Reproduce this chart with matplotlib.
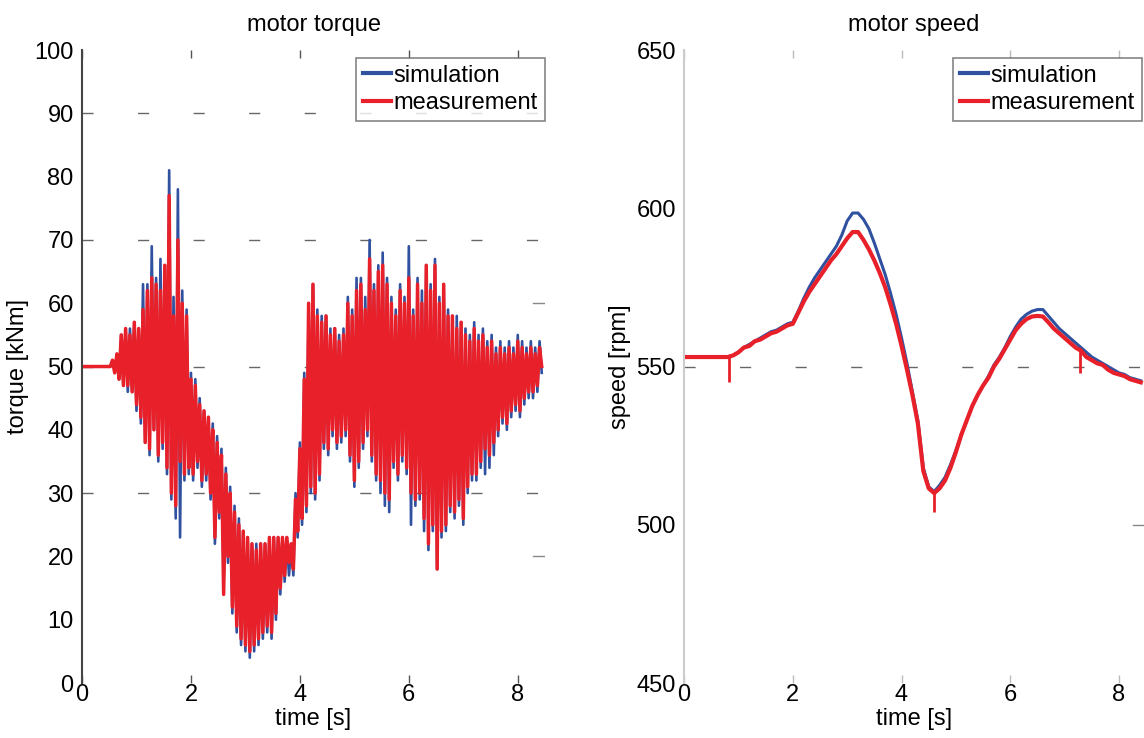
import matplotlib
matplotlib.use('Agg')
import matplotlib.pyplot as plt
import numpy as np

plt.rcParams['font.family'] = ['Liberation Sans', 'DejaVu Sans']
plt.rcParams['font.size'] = 17

# ---------------- data ----------------
# torque, sampled every 0.04 s from t = 0
torque_dt = 0.04
torque_meas = [
    50, 50, 50, 50, 50, 50, 50, 50, 50, 50,
    50, 50, 50, 50, 51, 49, 52, 48, 55, 47,
    56, 47, 55, 46, 57, 44, 56, 42, 59, 38,
    62, 37, 64, 40, 63, 36, 62, 38, 66, 34,
    77, 30, 58, 28, 70, 35, 60, 33, 58, 34,
    48, 33, 47, 35, 44, 32, 43, 33, 42, 30,
    40, 23, 38, 27, 36, 14, 33, 20, 30, 12,
    27, 9, 25, 7, 24, 6, 23, 5, 22, 6,
    21, 7, 22, 8, 22, 9, 23, 8, 23, 11,
    23, 15, 23, 17, 23, 19, 22, 18, 29, 24,
    37, 26, 48, 28, 60, 31, 63, 30, 58, 33,
    57, 38, 58, 37, 55, 40, 56, 38, 54, 39,
    55, 40, 60, 36, 58, 32, 62, 35, 63, 38,
    59, 40, 67, 36, 62, 33, 65, 32, 66, 30,
    63, 29, 60, 35, 58, 33, 62, 36, 60, 34,
    64, 30, 58, 29, 63, 30, 60, 26, 66, 22,
    62, 25, 66, 18, 60, 24, 63, 25, 58, 28,
    58, 27, 56, 29, 57, 26, 55, 31, 54, 33,
    56, 33, 54, 35, 55, 37, 53, 36, 54, 38,
    52, 40, 53, 42, 52, 41, 53, 43, 52, 44,
    54, 43, 53, 45, 52, 46, 53, 46, 52, 47,
    53, 50,
]
torque_sim = [
    50, 50, 50, 50, 50, 50, 50, 50, 50, 50,
    50, 50, 50, 50, 51, 49, 52, 48, 55, 47,
    56, 46, 56, 46, 57, 43, 56, 41, 63, 38,
    63, 36, 69, 40, 64, 35, 67, 37, 66, 33,
    81, 29, 61, 26, 78, 23, 62, 32, 59, 33,
    49, 32, 48, 34, 45, 31, 43, 32, 42, 29,
    41, 22, 39, 26, 37, 16, 34, 19, 31, 11,
    28, 8, 26, 6, 24, 5, 23, 4, 22, 5,
    22, 6, 22, 7, 22, 8, 23, 7, 23, 10,
    23, 14, 23, 16, 23, 17, 22, 17, 30, 23,
    38, 25, 49, 27, 60, 30, 63, 29, 59, 32,
    58, 37, 58, 36, 56, 39, 56, 37, 55, 38,
    56, 39, 61, 35, 59, 31, 64, 34, 64, 37,
    61, 39, 70, 35, 63, 32, 66, 30, 68, 28,
    64, 27, 61, 34, 59, 32, 63, 35, 61, 33,
    69, 25, 59, 28, 64, 29, 62, 24, 66, 21,
    63, 24, 67, 18, 61, 23, 63, 24, 59, 27,
    58, 26, 58, 28, 57, 25, 56, 30, 55, 32,
    57, 32, 55, 34, 56, 33, 54, 34, 55, 36,
    53, 39, 54, 41, 53, 40, 54, 42, 53, 43,
    55, 42, 54, 44, 53, 45, 54, 45, 53, 46,
    54, 49,
]

# speed, sampled every 0.1 s from t = 0 to 8.4
speed_dt = 0.1
speed_meas = [
    553, 553, 553, 553, 553, 553, 553, 553, 553, 553.5,
    554.5, 556, 556.5, 558, 558.5, 559.5, 560.5, 561, 562, 563,
    563.5, 567, 570.5, 573.5, 576, 578.5, 581, 583.5, 585.5, 588,
    590.5, 592.5, 592.5, 590, 587, 583.5, 579.5, 575, 569.5, 563.5,
    556.5, 549, 541, 532, 517, 511.5, 510, 511.5, 514, 518,
    523, 528.5, 533, 537.5, 541, 544, 546.5, 550, 552.5, 555.5,
    558.5, 561.5, 563.5, 565, 565.8, 566, 565.8, 564, 562, 560.5,
    559, 557.5, 556, 555, 553, 552, 551, 550.5, 549, 548,
    547.5, 547, 546, 545.5, 545,
]
speed_sim = [
    553, 553, 553, 553, 553, 553, 553, 553, 553, 553.5,
    554.5, 556, 557, 558, 559, 560, 561, 561.5, 562.5, 563.5,
    564, 567.5, 571.5, 575, 578, 580.5, 583, 585.5, 588, 591.5,
    596, 598.5, 598.5, 596.5, 593.5, 589, 584, 579, 573, 566.5,
    559, 551, 542, 533, 518, 512, 510.5, 512.5, 515, 519,
    523.5, 528.5, 533, 537.5, 541, 544, 547, 550.5, 553, 556,
    559.5, 562.5, 565, 566.5, 567.5, 568, 568, 566, 564, 562,
    560.5, 559, 557.5, 556, 554.5, 553, 552, 551, 550, 549,
    548, 547.5, 546.5, 546, 545.5,
]
# short downward spikes in the measured speed
spike_t = [0.83, 4.60, 7.28]
spike_top = [553, 510, 556]
spike_bottom = [545, 504, 548]

blue = '#3050A0'
red = '#E8202A'

t_torque = np.arange(len(torque_meas)) * torque_dt
t_speed = np.arange(len(speed_meas)) * speed_dt

fig = plt.figure(figsize=(11.44, 7.38), dpi=100)
ax1 = fig.add_axes([0.0717, 0.0745, 0.4047, 0.8577])
ax2 = fig.add_axes([0.598, 0.0745, 0.402, 0.8577])


def style(ax, spine_color):
    for s in ['top', 'right', 'bottom']:
        ax.spines[s].set_visible(False)
    ax.spines['left'].set_color(spine_color)
    ax.spines['left'].set_linewidth(1.5)
    ax.tick_params(axis='x', direction='in', length=6, width=1, color='#555555',
                   top=True, pad=1)
    ax.tick_params(axis='y', length=0, pad=6)


def add_legend(ax, x_anchor):
    leg = ax.legend(loc='upper right', bbox_to_anchor=(x_anchor, 0.988), borderaxespad=0,
                    handlelength=1.2, handletextpad=0.1, labelspacing=0.22,
                    borderpad=0.3, fancybox=False, fontsize=17)
    leg.get_frame().set_edgecolor('#666666')
    leg.get_frame().set_linewidth(1.2)
    for line in leg.get_lines():
        line.set_linewidth(3)
    return leg


# ---- motor torque ----
ax1.plot(t_torque, torque_sim, color=blue, lw=1.9, label='simulation')
ax1.plot(t_torque, torque_meas, color=red, lw=2.5, label='measurement')
for y in [30, 50, 70, 90]:
    ax1.axhline(y, color='#666666', lw=1, dashes=(8, 32), zorder=0)
for y in [20, 60]:
    ax1.axhline(y, xmin=0.975, xmax=1.0, color='#888888', lw=1)
ax1.set_xlim(0, 8.5)
ax1.set_ylim(0, 100)
ax1.set_xticks([0, 2, 4, 6, 8])
ax1.set_yticks(np.arange(0, 101, 10))
style(ax1, '#444444')
ax1.set_title('motor torque', fontsize=17, pad=14)
ax1.set_xlabel('time [s]', fontsize=17, labelpad=1)
ax1.set_ylabel('torque [kNm]', fontsize=17, labelpad=4)
add_legend(ax1, 1.0)

# ---- motor speed ----
ax2.plot(t_speed, speed_sim, color=blue, lw=2.2, label='simulation')
ax2.plot(t_speed, speed_meas, color=red, lw=3.0, label='measurement')
ax2.vlines(spike_t, spike_bottom, spike_top, color=red, lw=2)
ax2.axhline(550, color='#666666', lw=1, dashes=(8, 32), zorder=0)
ax2.axhline(500, xmin=0.975, xmax=1.0, color='#888888', lw=1)
ax2.set_xlim(0, 8.46)
ax2.set_ylim(450, 650)
ax2.set_xticks([0, 2, 4, 6, 8])
ax2.set_yticks([450, 500, 550, 600, 650])
style(ax2, '#cccccc')
ax2.tick_params(axis='x', color='#bbbbbb')
ax2.set_title('motor speed', fontsize=17, pad=14)
ax2.set_xlabel('time [s]', fontsize=17, labelpad=1)
ax2.set_ylabel('speed [rpm]', fontsize=17, labelpad=4)
add_legend(ax2, 0.995)

fig.savefig('out.png', dpi=100)
